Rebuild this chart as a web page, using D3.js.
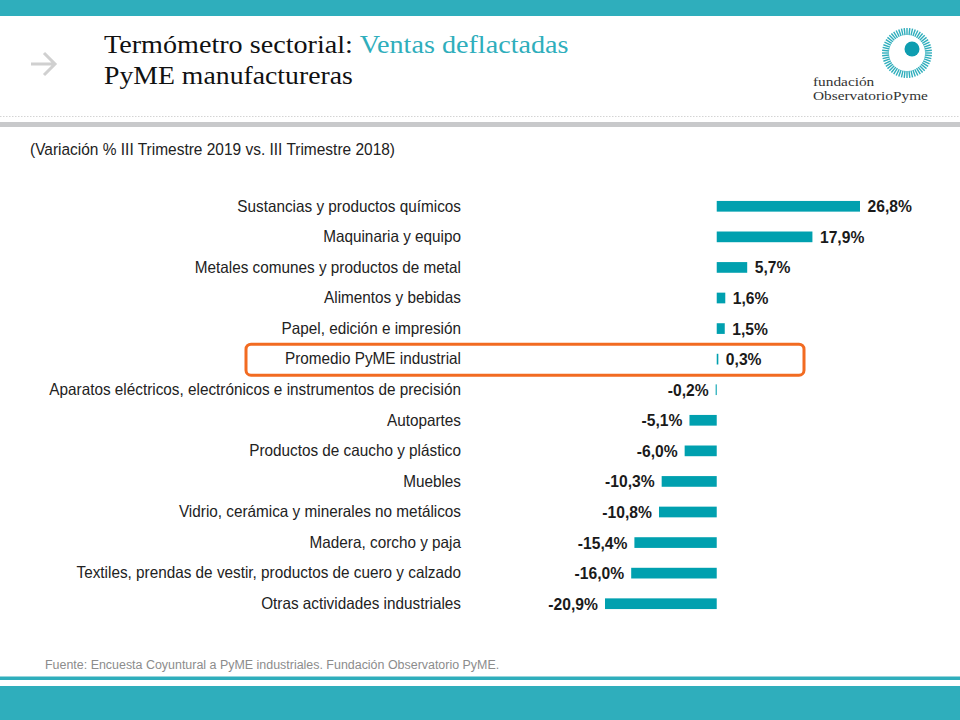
<!DOCTYPE html>
<html>
<head>
<meta charset="utf-8">
<script src="https://cdnjs.cloudflare.com/ajax/libs/d3/7.8.5/d3.min.js"></script>
<style>
  html, body { margin: 0; padding: 0; background: #fff; }
  svg { display: block; }
  text { font-family: "Liberation Sans", Arial, sans-serif; }
  .serif { font-family: "Liberation Serif", serif; }
  .cat .tick text { font-size: 16.5px; fill: #222; }
  .cat .domain, .cat .tick line { display: none; }
  .val { font-size: 16.5px; font-weight: bold; fill: #1a1a1a; }
</style>
</head>
<body>
<svg id="chart" width="960" height="720"></svg>
<script>
const categories = [
    'Sustancias y productos químicos',
    'Maquinaria y equipo',
    'Metales comunes y productos de metal',
    'Alimentos y bebidas',
    'Papel, edición e impresión',
    'Promedio PyME industrial',
    'Aparatos eléctricos, electrónicos e instrumentos de precisión',
    'Autopartes',
    'Productos de caucho y plástico',
    'Muebles',
    'Vidrio, cerámica y minerales no metálicos',
    'Madera, corcho y paja',
    'Textiles, prendas de vestir, productos de cuero y calzado',
    'Otras actividades industriales',
];
const values = [26.8, 17.9, 5.7, 1.6, 1.5, 0.3, -0.2, -5.1, -6.0, -10.3, -10.8, -15.4, -16.0, -20.9];
const highlighted = 'Promedio PyME industrial';

const teal = '#2FAEBC';
const barColor = '#00A0AF';

const svg = d3.select('#chart');

// text squeezed or stretched sideways, the fonts here are not the slide's fonts
function placed(px, py, sx) {
    return `translate(${px},${py}) scale(${sx},1)`;
}

// slide frame
svg.append('rect').attr('x', 0).attr('y', 0).attr('width', 960).attr('height', 16).attr('fill', teal);
svg.append('rect').attr('x', 0).attr('y', 676.5).attr('width', 960).attr('height', 3.5).attr('fill', teal);
svg.append('rect').attr('x', 0).attr('y', 686).attr('width', 960).attr('height', 34).attr('fill', teal);
svg.append('line').attr('x1', 0).attr('x2', 960).attr('y1', 116.5).attr('y2', 116.5)
   .attr('stroke', '#d4d4d4').attr('stroke-dasharray', '1.5,1.5');
svg.append('rect').attr('x', 0).attr('y', 122).attr('width', 960).attr('height', 5).attr('fill', '#c8c9cb');

// arrow
svg.append('path')
   .attr('d', 'M31,64H55M44,53L55,64L44,75')
   .attr('fill', 'none').attr('stroke', '#d0d0d0').attr('stroke-width', 3);

// title
const title = svg.append('text').attr('class', 'serif')
   .attr('transform', placed(104, 53, 1.126))
   .style('font-size', '25px').attr('fill', '#111');
title.append('tspan').text('Termómetro sectorial: ');
title.append('tspan').attr('fill', teal).text('Ventas deflactadas');
svg.append('text').attr('class', 'serif')
   .attr('transform', placed(104, 84, 1.11))
   .style('font-size', '25px').attr('fill', '#111').text('PyME manufactureras');

svg.append('text')
   .attr('transform', placed(30, 155, 0.938))
   .style('font-size', '16.5px').attr('fill', '#222')
   .text('(Variación % III  Trimestre  2019 vs. III  Trimestre  2018)');

// logo
const logo = svg.append('g').attr('transform', 'translate(907,53)');
logo.selectAll('line').data(d3.range(56)).enter().append('line')
    .attr('x1', d => 18 * Math.cos(d * Math.PI / 28))
    .attr('y1', d => 18 * Math.sin(d * Math.PI / 28))
    .attr('x2', d => 25 * Math.cos(d * Math.PI / 28))
    .attr('y2', d => 25 * Math.sin(d * Math.PI / 28))
    .attr('stroke', teal).attr('stroke-width', 1.4);
logo.append('circle').attr('cx', 5).attr('cy', -4).attr('r', 7.5).attr('fill', '#0E9DB0');
svg.append('text').attr('class', 'serif')
   .attr('transform', placed(813, 86, 1.18))
   .style('font-size', '13px').attr('fill', '#333').text('fundación');
svg.append('text').attr('class', 'serif')
   .attr('transform', placed(813, 100, 1.18))
   .style('font-size', '13px').attr('fill', '#333').text('ObservatorioPyme');

// scales
const x = d3.scaleLinear().domain([-20.9, 26.8]).range([605, 860]);
const y = d3.scaleBand().domain(categories).range([191, 619]).paddingInner(0.65).paddingOuter(0.325);

// category labels
svg.append('g').attr('class', 'cat')
   .attr('transform', 'translate(461,0)')
   .call(d3.axisLeft(y).tickSize(0).tickPadding(0));
svg.selectAll('.cat .tick text').attr('transform', 'scale(0.928,1)');

// bars
svg.selectAll('rect.bar').data(values).enter().append('rect')
   .attr('class', 'bar')
   .attr('x', d => Math.min(x(0), x(d)))
   .attr('y', (d, i) => y(categories[i]))
   .attr('width', d => Math.abs(x(d) - x(0)))
   .attr('height', y.bandwidth())
   .attr('fill', barColor);

// value labels
svg.selectAll('text.val').data(values).enter().append('text')
   .attr('class', 'val')
   .attr('transform', (d, i) => placed(d >= 0 ? x(d) + 7.5 : x(d) - 7,
                                       y(categories[i]) + y.bandwidth() / 2 + 6, 0.95))
   .attr('text-anchor', d => d >= 0 ? 'start' : 'end')
   .text(d => d.toFixed(1).replace('.', ',') + '%');

// highlight box around the average row
svg.append('rect')
   .attr('x', 246).attr('y', y(highlighted) + y.bandwidth() / 2 - 15)
   .attr('width', 558).attr('height', 31).attr('rx', 5)
   .attr('fill', 'none').attr('stroke', '#F26B21').attr('stroke-width', 3);

// source
svg.append('text').attr('x', 45).attr('y', 669)
   .style('font-size', '12.45px').attr('fill', '#8c8c8c')
   .text('Fuente: Encuesta Coyuntural  a PyME industriales. Fundación Observatorio PyME.');
</script>
</body>
</html>
